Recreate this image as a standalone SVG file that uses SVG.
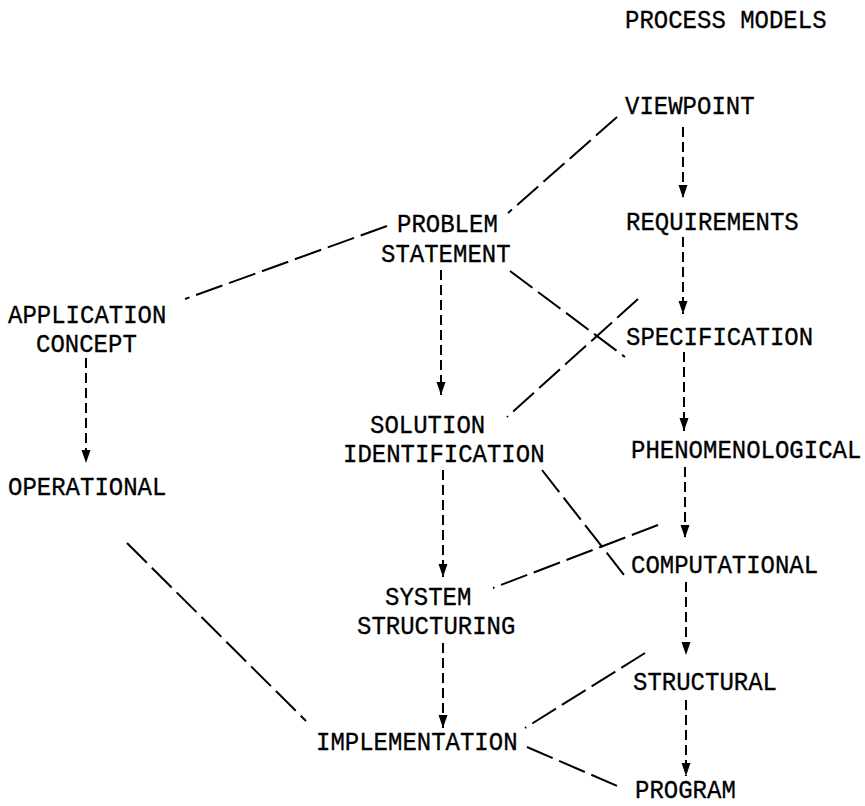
<svg xmlns="http://www.w3.org/2000/svg" width="865" height="806" viewBox="0 0 865 806">
<style>
text{font-family:"Liberation Mono","Courier New",monospace;font-size:24px;fill:#000;stroke:#000;stroke-width:0.3}
.arr{stroke:#000;stroke-width:2;fill:none;stroke-dasharray:10 5}
.lnk{stroke:#000;stroke-width:2;fill:none;stroke-dasharray:28 7}
</style>
<defs>
<marker id="ah" markerUnits="userSpaceOnUse" markerWidth="14" markerHeight="10" refX="13" refY="4.5" orient="auto">
<path d="M0,0 L13,4.5 L0,9 z" fill="#000"/>
</marker>
</defs>
<rect width="865" height="806" fill="#fff"/>
<g id="title"><text transform="translate(625,28) scale(1,1.1)">PROCESS MODELS</text></g>
<g id="viewpoint"><text transform="translate(625,114) scale(1,1.1)">VIEWPOINT</text></g>
<g id="requirements"><text transform="translate(626,230) scale(1,1.1)">REQUIREMENTS</text></g>
<g id="problem-statement"><text transform="translate(397,232) scale(1,1.1)">PROBLEM</text><text transform="translate(381,262) scale(1,1.1)">STATEMENT</text></g>
<g id="application-concept"><text transform="translate(8,323) scale(1,1.1)">APPLICATION</text><text transform="translate(36,352) scale(1,1.1)">CONCEPT</text></g>
<g id="specification"><text transform="translate(626,345) scale(1,1.1)">SPECIFICATION</text></g>
<g id="solution-identification"><text transform="translate(370,433) scale(1,1.1)">SOLUTION</text><text transform="translate(343,462) scale(1,1.1)">IDENTIFICATION</text></g>
<g id="phenomenological"><text transform="translate(631,458) scale(1,1.1)">PHENOMENOLOGICAL</text></g>
<g id="operational"><text transform="translate(8,495) scale(1,1.1)">OPERATIONAL</text></g>
<g id="computational"><text transform="translate(631,573) scale(1,1.1)">COMPUTATIONAL</text></g>
<g id="system-structuring"><text transform="translate(385,605) scale(1,1.1)">SYSTEM</text><text transform="translate(357,634) scale(1,1.1)">STRUCTURING</text></g>
<g id="structural"><text transform="translate(633,690) scale(1,1.1)">STRUCTURAL</text></g>
<g id="implementation"><text transform="translate(316,750) scale(1,1.1)">IMPLEMENTATION</text></g>
<g id="program"><text transform="translate(635,798) scale(1,1.1)">PROGRAM</text></g>
<g id="connectors">
<line class="arr" x1="683" y1="127" x2="683" y2="198" marker-end="url(#ah)"/>
<line class="arr" x1="683" y1="237" x2="683" y2="314" marker-end="url(#ah)"/>
<line class="arr" x1="684" y1="352" x2="684" y2="431" marker-end="url(#ah)"/>
<line class="arr" x1="685" y1="467" x2="685" y2="538" marker-end="url(#ah)"/>
<line class="arr" x1="686" y1="582" x2="686" y2="655" marker-end="url(#ah)"/>
<line class="arr" x1="686" y1="700" x2="686" y2="776" marker-end="url(#ah)"/>
<line class="arr" x1="441" y1="270" x2="441" y2="395" marker-end="url(#ah)"/>
<line class="arr" x1="443" y1="470" x2="443" y2="577" marker-end="url(#ah)"/>
<line class="arr" x1="443" y1="643" x2="443" y2="728" marker-end="url(#ah)"/>
<line class="arr" x1="86" y1="358" x2="86" y2="463" marker-end="url(#ah)"/>
<line class="lnk" x1="617" y1="117" x2="508" y2="213"/>
<line class="lnk" x1="387" y1="226" x2="185" y2="299"/>
<line class="lnk" x1="510" y1="271" x2="625" y2="357"/>
<line class="lnk" x1="638" y1="299" x2="507" y2="417"/>
<line class="lnk" x1="542" y1="470" x2="628" y2="580"/>
<line class="lnk" x1="658" y1="525" x2="493" y2="588"/>
<line class="lnk" x1="127" y1="543" x2="306" y2="721"/>
<line class="lnk" x1="645" y1="653" x2="525" y2="728"/>
<line class="lnk" x1="527" y1="747" x2="622" y2="788"/>
</g>
</svg>
